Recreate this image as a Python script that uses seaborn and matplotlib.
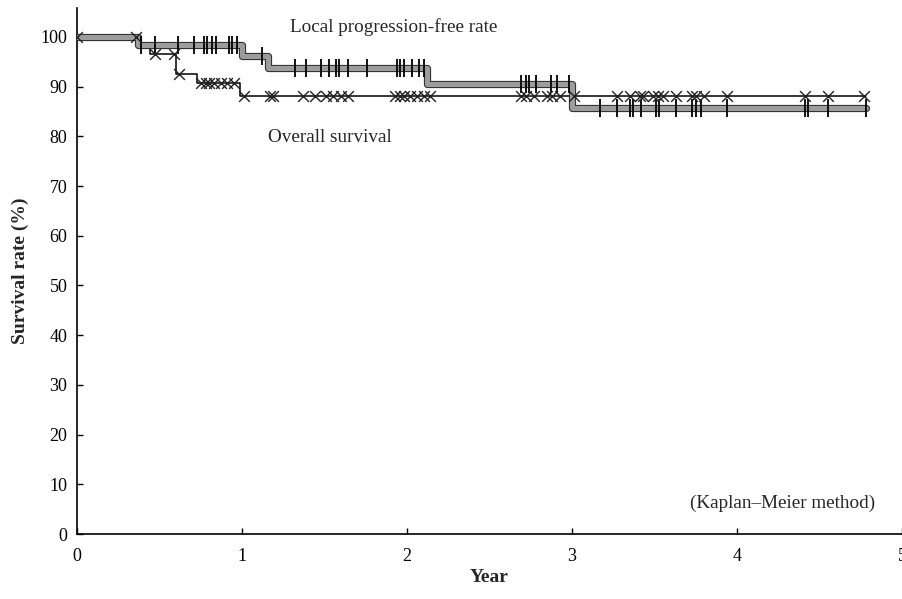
import numpy as np
import pandas as pd
import matplotlib
matplotlib.use("Agg")
import matplotlib.pyplot as plt
import matplotlib.patheffects as pe
import seaborn as sns

# ---- data ----
lpfs_times = [0.0, 0.37, 1.00, 1.16, 2.12, 3.00, 4.78]
lpfs_levels = [100.0, 98.3, 96.1, 93.8, 90.6, 85.7, 85.7]
lpfs_censor = [0.39, 0.47, 0.61, 0.71, 0.77, 0.79, 0.82, 0.84, 0.92, 0.94, 0.97,
               1.12, 1.32, 1.39, 1.48, 1.53, 1.57, 1.59, 1.64, 1.76, 1.94, 1.96,
               1.98, 2.03, 2.07, 2.10, 2.69, 2.72, 2.74, 2.78, 2.87, 2.91, 2.98,
               3.17, 3.27, 3.35, 3.37, 3.42, 3.51, 3.53, 3.63, 3.73, 3.75, 3.78,
               3.94, 4.41, 4.43, 4.55, 4.78]

os_times = [0.0, 0.37, 0.44, 0.60, 0.73, 0.99, 4.78]
os_levels = [100.0, 98.3, 96.5, 92.5, 90.7, 88.2, 88.2]
os_censor = [0.0, 0.36, 0.47, 0.59, 0.62, 0.75, 0.78, 0.80, 0.83, 0.87, 0.91, 0.95,
             1.01, 1.17, 1.19, 1.37, 1.44, 1.51, 1.55, 1.60, 1.64, 1.93, 1.96, 1.98,
             2.02, 2.06, 2.10, 2.14, 2.69, 2.72, 2.77, 2.85, 2.88, 2.93, 3.01,
             3.27, 3.35, 3.41, 3.43, 3.49, 3.52, 3.55, 3.63, 3.73, 3.75, 3.80,
             3.94, 4.41, 4.55, 4.77]

x_ticks = [0, 1, 2, 3, 4, 5]
y_ticks = [0, 10, 20, 30, 40, 50, 60, 70, 80, 90, 100]


def step_value(times, levels, t):
    idx = np.searchsorted(np.asarray(times), np.asarray(t), side="right") - 1
    idx = np.clip(idx, 0, len(levels) - 1)
    return np.asarray(levels)[idx]


sns.set_style("ticks")
plt.rcParams["font.family"] = ["Liberation Serif", "DejaVu Serif"]
plt.rcParams["font.size"] = 13

fig = plt.figure(figsize=(9.03, 5.99), dpi=100)
ax = fig.add_axes([0.0853, 0.1085, 0.9136, 0.878])

lp = pd.DataFrame({"t": lpfs_times, "v": lpfs_levels})
osd = pd.DataFrame({"t": os_times, "v": os_levels})

# Overall survival (thin black line)
sns.lineplot(data=osd, x="t", y="v", drawstyle="steps-post", estimator=None,
             color="black", linewidth=1.1, ax=ax, zorder=3)
# Local progression-free rate (thick grey line with dark outline)
sns.lineplot(data=lp, x="t", y="v", drawstyle="steps-post", estimator=None,
             color="#9c9c9c", linewidth=3.6, ax=ax, zorder=4,
             path_effects=[pe.Stroke(linewidth=5.2, foreground="#333333"), pe.Normal()])

lc = pd.DataFrame({"t": lpfs_censor, "v": step_value(lpfs_times, lpfs_levels, lpfs_censor)})
oc = pd.DataFrame({"t": os_censor, "v": step_value(os_times, os_levels, os_censor)})

sns.scatterplot(data=lc, x="t", y="v", marker="|", s=170, color="black",
                linewidth=1.3, ax=ax, zorder=5)
sns.scatterplot(data=oc, x="t", y="v", marker="x", s=60, color="#222222",
                linewidth=1.0, ax=ax, zorder=5)

ax.set_xlim(0, 5)
ax.set_ylim(0, 105.8)
ax.set_xticks(x_ticks)
ax.set_yticks(y_ticks)
ax.set_xticklabels([str(v) for v in x_ticks])
ax.set_yticklabels([str(v) for v in y_ticks])
ax.tick_params(direction="in", length=4, width=1, labelsize=13, colors="black")
ax.tick_params(axis="x", pad=10)
ax.tick_params(axis="y", pad=7)
for s in ["top", "right"]:
    ax.spines[s].set_visible(False)
for s in ["left", "bottom"]:
    ax.spines[s].set_linewidth(1.2)
    ax.spines[s].set_color("black")

ax.set_xlabel("Year", fontsize=14, fontweight="bold", labelpad=3)
ax.set_ylabel("Survival rate (%)", fontsize=14, fontweight="bold", labelpad=8)

ax.text(1.92, 101.9, "Local progression-free rate", ha="center", va="center", fontsize=13.8)
ax.text(1.53, 79.8, "Overall survival", ha="center", va="center", fontsize=13.8)
ax.text(4.84, 6.2, "(Kaplan\u2013Meier method)", ha="right", va="center", fontsize=13.8)

fig.savefig("out.png", dpi=100)
